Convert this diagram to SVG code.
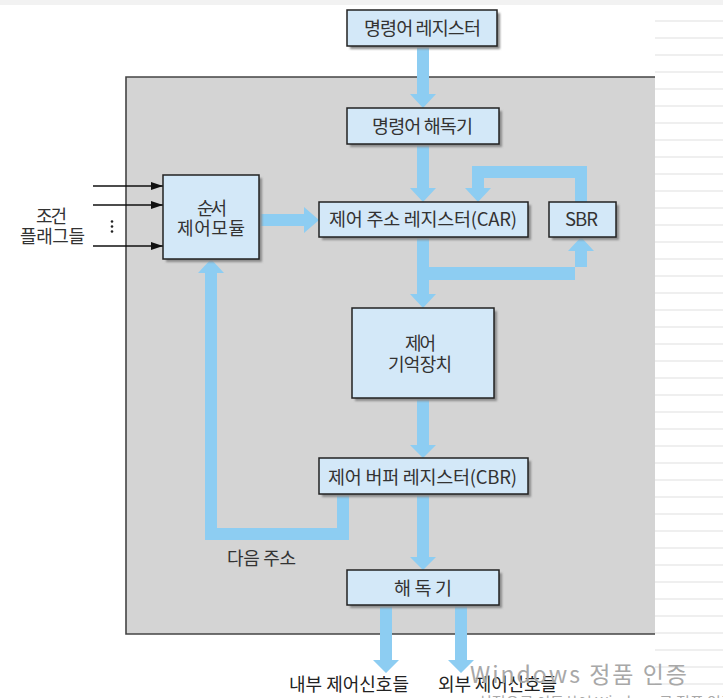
<svg xmlns="http://www.w3.org/2000/svg" width="723" height="698" viewBox="0 0 723 698">
  <style>
    .box { fill: #d3e8f8; stroke: #222; stroke-width: 1.5; }
    .shadow { fill: #8a8a8a; filter: url(#soft); }
    .lbl { font-family: "Noto Sans CJK KR", "Noto Sans", sans-serif; font-size: 18.5px; fill: #333; text-anchor: middle; }
    .two { font-family: "Noto Sans CJK KR", "Noto Sans", sans-serif; font-size: 18px; fill: #333; text-anchor: middle; }
    .side { font-family: "Noto Sans CJK KR", "Noto Sans", sans-serif; font-size: 18px; fill: #333; text-anchor: middle; }
    .out { font-family: "Noto Sans CJK KR", "Noto Sans", sans-serif; font-size: 18px; fill: #222; text-anchor: middle; }
    .flow { fill: #8dcdf2; }
    .wire { stroke: #111; stroke-width: 1.3; fill: none; marker-end: url(#tip); }
    .mark { font-family: "Noto Sans CJK KR", "Noto Sans", sans-serif; fill: #a8a8a8; }
  </style>
  <defs>
    <filter id="soft" x="-10%" y="-10%" width="120%" height="120%">
      <feGaussianBlur stdDeviation="0.8"/>
    </filter>
    <marker id="tip" viewBox="0 0 12 8" refX="12" refY="4" markerWidth="12" markerHeight="8" markerUnits="userSpaceOnUse" orient="auto">
      <path d="M0,0 L12,4 L0,8 z" fill="#111"/>
    </marker>
    <pattern id="stripes" x="0" y="3" width="68" height="17" patternUnits="userSpaceOnUse">
      <rect x="0" y="0" width="68" height="2" fill="#efefef"/>
    </pattern>
  </defs>

  <!-- page background -->
  <rect x="0" y="0" width="723" height="698" fill="#ffffff"/>
  <rect x="0" y="0" width="723" height="5" fill="#f2f2f2"/>
  <rect x="655" y="14" width="68" height="680" fill="url(#stripes)"/>

  <!-- control unit enclosure -->
  <g id="enclosure">
    <rect x="126" y="77" width="529" height="557" fill="#d4d4d4"/>
    <path d="M655,77 H126 V634 H655" fill="none" stroke="#444" stroke-width="1.6"/>
  </g>

  <!-- connectors -->
  <g id="connectors">
    <!-- instruction register -> instruction decoder -->
    <path class="flow" d="M417,46 H429 V94 H436 L423,108 L410,94 H417 Z"/>
    <!-- instruction decoder -> CAR -->
    <path class="flow" d="M417,144 H429 V188 H436 L423,202 L410,188 H417 Z"/>
    <!-- CAR -> control memory, with branch to SBR -->
    <path class="flow" d="M417,237 H429 V267 H587 V251 H594 L581,237 L568,251 H575 V280 H429 V294 H436 L423,308 L410,294 H417 Z"/>
    <!-- SBR -> CAR (return) -->
    <path class="flow" d="M575,202 V178 H484 V188 H491 L478,202 L465,188 H472 V166 H587 V202 Z"/>
    <!-- control memory -> CBR -->
    <path class="flow" d="M417,398 H429 V445 H436 L423,458 L410,445 H417 Z"/>
    <!-- CBR -> decoder -->
    <path class="flow" d="M417,494 H429 V557 H436 L423,570 L410,557 H417 Z"/>
    <!-- CBR -> sequencing module (next address) -->
    <path class="flow" d="M337,494 H349 V540 H205 V273 H198 L211,259 L224,273 H217 V528 H337 Z"/>
    <!-- sequencing module -> CAR -->
    <path class="flow" d="M259,214 H304 V207 L319,220 L304,233 V226 H259 Z"/>
    <!-- decoder outputs -->
    <path class="flow" d="M380,605 H392 V660 H399 L386,673 L373,660 H380 Z"/>
    <path class="flow" d="M455,605 H467 V660 H474 L461,673 L448,660 H455 Z"/>
    <!-- condition flag inputs -->
    <line class="wire" x1="93" y1="186" x2="163" y2="186"/>
    <line class="wire" x1="93" y1="205" x2="163" y2="205"/>
    <line class="wire" x1="93" y1="246" x2="163" y2="246"/>
    <circle cx="112" cy="221.5" r="1.3" fill="#222"/>
    <circle cx="112" cy="226.5" r="1.3" fill="#222"/>
    <circle cx="112" cy="231.5" r="1.3" fill="#222"/>
  </g>

  <!-- nodes -->
  <g id="ir">
    <rect class="shadow" x="350" y="13" width="150" height="36"/>
    <rect class="box" x="347" y="10" width="150" height="36"/>
    <text class="lbl" x="422.5" y="34.5" textLength="117" lengthAdjust="spacing">명령어 레지스터</text>
  </g>
  <g id="decoder1">
    <rect class="shadow" x="350" y="111" width="152" height="36"/>
    <rect class="box" x="347" y="108" width="152" height="36"/>
    <text class="lbl" x="422.5" y="132.5" textLength="101" lengthAdjust="spacing">명령어 해독기</text>
  </g>
  <g id="car">
    <rect class="shadow" x="322" y="205" width="209" height="35"/>
    <rect class="box" x="319" y="202" width="209" height="35"/>
    <text class="lbl" x="423" y="226" textLength="188" lengthAdjust="spacing">제어 주소 레지스터(CAR)</text>
  </g>
  <g id="sbr">
    <rect class="shadow" x="552" y="205" width="67" height="35"/>
    <rect class="box" x="549" y="202" width="67" height="35"/>
    <text class="lbl" x="581.5" y="226" textLength="33" lengthAdjust="spacing">SBR</text>
  </g>
  <g id="sequencer">
    <rect class="shadow" x="166" y="178" width="96" height="84"/>
    <rect class="box" x="163" y="175" width="96" height="84"/>
    <text class="two" x="212" y="214.5" textLength="30" lengthAdjust="spacing">순서</text>
    <text class="two" x="211" y="235" textLength="68" lengthAdjust="spacing">제어모듈</text>
  </g>
  <g id="memory">
    <rect class="shadow" x="355" y="311" width="142" height="90"/>
    <rect class="box" x="352" y="308" width="142" height="90"/>
    <text class="two" x="420.5" y="349.5" textLength="31" lengthAdjust="spacing">제어</text>
    <text class="two" x="420" y="370.5" textLength="64" lengthAdjust="spacing">기억장치</text>
  </g>
  <g id="cbr">
    <rect class="shadow" x="322" y="461" width="209" height="36"/>
    <rect class="box" x="319" y="458" width="209" height="36"/>
    <text class="lbl" x="422.5" y="484" textLength="189" lengthAdjust="spacing">제어 버퍼 레지스터(CBR)</text>
  </g>
  <g id="decoder2">
    <rect class="shadow" x="350" y="573" width="152" height="35"/>
    <rect class="box" x="347" y="570" width="152" height="35"/>
    <text class="lbl" x="423" y="595" textLength="58" lengthAdjust="spacing">해 독 기</text>
  </g>

  <!-- labels -->
  <g id="labels">
    <text class="side" x="51.5" y="222.5" textLength="31" lengthAdjust="spacing">조건</text>
    <text class="side" x="52.5" y="242.5" textLength="65" lengthAdjust="spacing">플래그들</text>
    <text class="side" x="261.5" y="564.5" textLength="69" lengthAdjust="spacing">다음 주소</text>
    <text class="out" x="349" y="691" textLength="120" lengthAdjust="spacing">내부 제어신호들</text>
    <text class="out" x="497.5" y="691" textLength="119" lengthAdjust="spacing">외부 제어신호들</text>
  </g>

  <!-- system overlay text -->
  <g id="overlay">
    <text class="mark" x="470" y="683" font-size="23" textLength="217" lengthAdjust="spacing">Windows 정품 인증</text>
    <text class="mark" x="478" y="708" font-size="15">설정으로 이동하여 Windows를 정품 인증합니다.</text>
  </g>
</svg>
